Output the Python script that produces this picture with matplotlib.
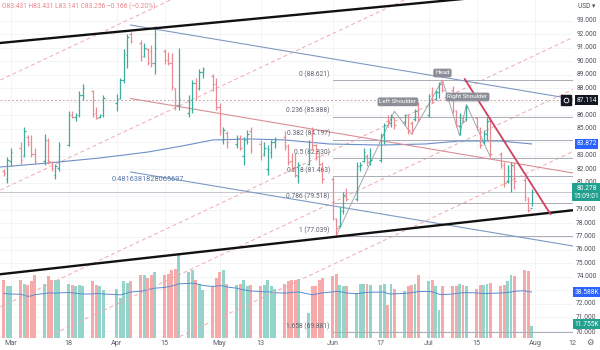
import numpy as np
import pandas as pd
import matplotlib
matplotlib.use('Agg')
import matplotlib.pyplot as plt
import matplotlib.dates as mdates
from matplotlib.transforms import blended_transform_factory

plt.rcParams['font.family'] = ['Roboto', 'DejaVu Sans']

# daily bars, exchange shut on Good Friday
dates = pd.bdate_range('2024-02-28', '2024-07-31').drop(pd.Timestamp('2024-03-29'))

opens = [81.9, 81.3, 82.6,
         83.6, 83.0, 84.4, 84.0, 83.1,
         82.6, 84.2, 82.5, 81.6, 82.1,
         83.8, 86.0, 85.9, 86.0, 87.5,
         87.8, 86.2, 85.9, 86.0,
         86.9, 87.3, 88.6, 90.5, 92.0,
         91.4, 90.4, 90.9, 90.8, 89.9,
         90.8, 90.1, 89.9, 88.0, 86.8,
         86.2, 87.1, 88.4, 88.0, 89.2,
         88.9, 88.3, 86.6, 84.2, 84.7,
         83.9, 84.3, 83.0, 84.2, 84.8,
         83.9, 83.1, 82.0, 83.3, 84.0,
         84.4, 83.7, 82.6, 82.0, 81.5,
         82.4, 84.5, 83.8, 83.0, 82.4,
         81.3, 78.3, 77.8, 78.9, 80.2,
         79.8, 82.2, 82.6, 83.0, 82.6,
         82.7, 84.5, 85.6, 85.4, 85.8,
         85.5, 86.0, 85.4, 85.7, 86.4,
         86.0, 87.6, 87.2, 87.7, 88.3,
         87.9, 86.3, 85.2, 85.8, 85.7,
         85.8, 85.0, 84.0, 84.6, 85.6,
         83.1, 82.3, 81.1, 81.5, 82.2,
         81.2, 79.8, 79.1]
highs = [82.0, 82.9, 83.6,
         84.0, 85.1, 84.5, 84.5, 83.6,
         84.6, 84.3, 82.6, 82.4, 84.0,
         86.3, 86.3, 86.2, 87.8, 88.3,
         87.9, 86.6, 86.1, 87.5,
         87.6, 88.8, 90.9, 92.0, 92.2,
         91.6, 91.4, 91.0, 91.2, 92.6,
         90.9, 90.7, 90.6, 88.0, 91.0,
         87.5, 88.6, 88.8, 89.4, 89.6,
         89.1, 88.8, 86.9, 85.1, 84.8,
         84.5, 84.5, 84.4, 84.9, 85.1,
         84.2, 84.0, 83.8, 84.2, 84.4,
         84.8, 83.9, 83.2, 83.2, 82.5,
         84.2, 85.1, 83.9, 83.2, 82.5,
         81.4, 78.4, 79.2, 80.3, 80.6,
         82.5, 82.5, 83.6, 83.1, 83.6,
         84.7, 85.4, 86.0, 86.1, 85.9,
         86.1, 86.1, 85.6, 86.5, 87.0,
         87.6, 88.1, 87.9, 88.5, 88.621,
         88.2, 86.4, 86.2, 86.0, 86.8,
         85.9, 85.1, 84.9, 85.9, 85.9,
         83.3, 82.5, 82.3, 82.5, 82.5,
         81.4, 79.9, 80.5]
lows = [81.5, 81.0, 82.2,
        82.4, 82.9, 83.7, 82.9, 82.4,
        82.3, 82.4, 81.9, 81.3, 81.9,
        83.7, 85.8, 85.6, 85.9, 87.1,
        85.9, 85.7, 85.8, 85.9,
        86.3, 87.2, 88.4, 89.5, 91.4,
        90.0, 90.3, 89.7, 89.6, 89.1,
        89.8, 89.7, 87.9, 86.4, 86.4,
        85.9, 86.2, 87.1, 87.9, 88.8,
        87.8, 86.4, 84.5, 83.9, 83.6,
        83.6, 83.4, 82.3, 83.9, 83.2,
        82.7, 83.0, 81.6, 82.8, 83.6,
        83.4, 82.3, 81.9, 81.4, 81.0,
        82.3, 83.4, 82.7, 82.2, 81.0,
        78.2, 77.039, 77.7, 78.7, 79.6,
        79.6, 81.9, 82.5, 82.2, 82.3,
        82.5, 83.9, 85.1, 85.1, 85.0,
        85.3, 84.6, 84.6, 85.6, 85.5,
        85.9, 86.9, 87.1, 87.3, 87.7,
        86.2, 85.1, 84.5, 85.4, 85.6,
        84.9, 83.6, 83.9, 84.2, 82.9,
        82.1, 80.7, 81.0, 80.3, 80.5,
        79.6, 78.8, 79.3]
closes = [81.7, 82.7, 83.3,
          82.7, 84.8, 83.9, 83.1, 82.6,
          84.2, 82.6, 82.1, 82.2, 83.8,
          86.0, 85.9, 86.0, 87.5, 88.0,
          86.1, 85.8, 86.0, 87.3,
          87.2, 88.6, 90.6, 91.8, 91.5,
          90.3, 91.0, 89.9, 89.9, 91.0,
          90.1, 89.9, 88.1, 86.8, 87.2,
          87.1, 88.4, 88.0, 89.2, 89.4,
          88.3, 86.6, 84.8, 84.9, 84.0,
          84.3, 83.6, 84.2, 84.6, 83.4,
          83.0, 83.6, 83.5, 84.0, 84.2,
          83.7, 82.5, 82.0, 81.6, 82.3,
          84.0, 83.8, 82.9, 82.4, 81.3,
          78.4, 77.6, 78.9, 80.1, 79.8,
          82.2, 82.3, 83.3, 82.5, 82.7,
          84.5, 85.3, 85.4, 85.9, 85.3,
          86.0, 84.9, 85.0, 86.3, 85.7,
          87.4, 87.1, 87.7, 88.3, 87.9,
          86.4, 85.3, 86.0, 85.6, 86.6,
          85.1, 83.8, 84.7, 85.6, 83.1,
          82.3, 81.0, 81.9, 82.3, 81.1,
          79.9, 79.0, 80.278]

# volume in thousands, with its moving average
volume = [48, 43, 43,
          48, 45, 44, 47, 52,
          45, 51, 48, 48, 48,
          45, 44, 43, 44, 43,
          47, 44, 43, 40,
          41, 34, 47, 46, 47,
          52, 52, 50, 52, 54,
          52, 53, 56, 57, 68,
          54, 56, 48, 45, 40,
          43, 50, 54, 56, 45,
          44, 45, 48, 43, 44,
          43, 44, 48, 43, 41,
          45, 47, 48, 48, 49,
          22, 43, 43, 48, 50,
          51, 53, 44, 43, 43,
          38, 45, 45, 45, 44,
          44, 45, 28, 45, 41,
          39, 43, 44, 45, 52,
          47, 48, 43, 24, 43,
          43, 43, 45, 44, 43,
          41, 44, 44, 45, 46,
          43, 44, 47, 52, 51,
          56, 55, 11.755]
volume_ma = [37.5, 37.2, 37.0,
             36.8, 36.0, 35.2, 35.5, 36.5,
             37.4, 37.8, 38.0, 37.6, 37.9,
             38.2, 38.0, 37.6, 37.2, 37.0,
             37.1, 37.4, 37.3, 37.0,
             36.6, 36.3, 37.0, 37.8, 38.6,
             39.2, 39.8, 40.4, 41.0, 41.6,
             42.2, 42.8, 43.4, 44.0, 45.0,
             45.4, 45.6, 45.2, 44.6, 43.8,
             43.0, 43.2, 43.6, 43.4, 42.6,
             41.6, 40.8, 40.4, 39.8, 39.4,
             39.0, 38.7, 38.8, 38.5, 38.0,
             37.8, 37.9, 38.2, 38.5, 38.6,
             37.0, 36.4, 36.8, 37.4, 38.0,
             38.6, 39.2, 38.9, 38.4, 37.8,
             37.2, 37.6, 38.0, 38.3, 38.4,
             38.5, 38.6, 37.4, 37.0, 37.2,
             37.5, 37.8, 38.1, 38.4, 39.0,
             39.0, 38.8, 38.0, 36.8, 36.6,
             37.0, 37.5, 37.8, 38.0, 38.1,
             37.9, 37.7, 37.4, 37.4, 37.6,
             37.8, 38.0, 38.2, 38.6, 39.2,
             39.6, 38.9, 38.588]

# long moving average
ma_dates = ['2024-02-27', '2024-03-12', '2024-03-27', '2024-04-10', '2024-04-20',
            '2024-04-29', '2024-05-10', '2024-05-20', '2024-06-02', '2024-06-17',
            '2024-06-30', '2024-07-10', '2024-07-22', '2024-07-31']
ma_values = [82.16, 82.46, 82.83, 83.27, 83.72, 84.17, 84.24, 84.17, 83.87, 83.79,
             83.87, 84.09, 84.09, 83.872]

fib_ratios = ['0', '0.236', '0.382', '0.5', '0.618', '0.786', '1', '1.658']
fib_levels = [88.621, 85.888, 84.197, 82.830, 81.463, 79.518, 77.039, 69.881]

# trend lines as (date, price) pairs
channel_top = [('2024-02-27', 91.37), ('2024-08-12', 95.41)]
channel_bottom = [('2024-02-27', 74.2), ('2024-08-12', 78.95)]
reg_upper = [('2024-04-05', 92.70), ('2024-08-12', 87.21)]
reg_mid = [('2024-04-05', 87.25), ('2024-08-12', 81.72)]
reg_lower = [('2024-04-05', 81.79), ('2024-08-12', 76.30)]
down_line = [('2024-07-11 12:00', 88.69), ('2024-08-05 12:00', 78.67)]
fan_left = [88.62, 80.45, 71.77, 67.91, 63.30]
fan_right = [108.6, 100.45, 91.77, 87.91, 83.30]

hs_dates = ['2024-06-04', '2024-06-21', '2024-06-26', '2024-07-05', '2024-07-10',
            '2024-07-12', '2024-07-19']
hs_prices = [77.04, 86.3, 84.6, 88.62, 84.5, 86.8, 82.9]

price_ticks = list(range(70, 94))
time_ticks = ['2024-03-01', '2024-03-18', '2024-04-01', '2024-04-15', '2024-05-01',
              '2024-05-13', '2024-06-03', '2024-06-17', '2024-07-01', '2024-07-15',
              '2024-08-01', '2024-08-12']
time_labels = ['Mar', '18', 'Apr', '15', 'May', '13', 'Jun', '17', 'Jul', '15', 'Aug', '12']

UP, DOWN = '#3aad9e', '#ec8a92'
VOL_UP, VOL_DOWN = '#95d4cb', '#f6aaa9'


def num(d):
    return mdates.date2num(pd.Timestamp(d).to_pydatetime())


def seg(ax, pts, **kw):
    ax.plot([num(pts[0][0]), num(pts[1][0])], [pts[0][1], pts[1][1]], **kw)


x = mdates.date2num(dates.to_pydatetime())
o, h, l, c = map(np.array, (opens, highs, lows, closes))
up = c >= o

fig = plt.figure(figsize=(6, 3.5), dpi=100)
rect = [0, 12 / 350, 573 / 600, 338 / 350]
ax_vol = fig.add_axes(rect)
ax = fig.add_axes(rect, sharex=ax_vol)
ax.patch.set_visible(False)
for a in (ax, ax_vol):
    for s in a.spines.values():
        s.set_visible(False)

ax.set_xlim(x[-1] - 155.1, x[-1] + 12.1)
ax.set_ylim(69.466, 94.559)
ax_vol.set_ylim(2.29, 269.1)
ax_vol.set_yticks([])
ax.set_yticks([])

# grid
grid_tr = blended_transform_factory(ax_vol.transAxes, ax.transData)
ax_vol.hlines(price_ticks, 0, 1, transform=grid_tr, color='#f1f3f7', lw=0.6, zorder=0)
tick_x = [num(t) for t in time_ticks]
for tx in tick_x:
    ax_vol.axvline(tx, color='#f1f3f7', lw=0.6, zorder=0)

# volume
ax_vol.bar(x, volume, width=0.85, color=np.where(up, VOL_UP, VOL_DOWN), zorder=1)
ax_vol.plot(x, volume_ma, color='#5a8bd0', lw=0.7, zorder=2)

# fan of dashed lines
xl, xr = num('2024-02-27'), num('2024-08-12')
for pl, pr in zip(fan_left, fan_right):
    ax.plot([xl, xr], [pl, pr], color='#eeaab1', lw=0.7, ls=(0, (4, 3)), zorder=1)

# horizontal levels
ax.axhline(87.114, color='#c9a7ac', lw=0.7, ls=(0, (2, 2)), zorder=1)
ax.axhline(80.278, color='#c4c8cf', lw=0.7, zorder=1)

# fibonacci retracement
fib_x0 = num('2024-06-03')
for r, lv in zip(fib_ratios, fib_levels):
    ax.plot([fib_x0, xr], [lv, lv], color='#a9acb4', lw=0.7, zorder=1)
    ax.annotate(f'{r} ({lv:.3f})', (fib_x0, lv), xytext=(-2, 1.5), textcoords='offset points',
                ha='right', va='bottom', fontsize=4.8, color='#5f626d', zorder=3)

# moving average and regression channel
ax.plot([num(d) for d in ma_dates], ma_values, color='#6d8fc9', lw=0.8, zorder=2)
seg(ax, reg_upper, color='#7d9ac0', lw=0.8, zorder=2)
seg(ax, reg_lower, color='#7d9ac0', lw=0.8, zorder=2)
seg(ax, reg_mid, color='#d98f95', lw=0.8, zorder=2)
ax.text(num('2024-04-10'), 81.27, '0.4816381828065697', fontsize=5.3, color='#5577aa',
        ha='center', va='center', zorder=3)

# main channel
seg(ax, channel_top, color='#111111', lw=1.7, zorder=4)
seg(ax, channel_bottom, color='#111111', lw=1.7, zorder=4)
seg(ax, down_line, color='#d0405f', lw=1.3, zorder=4)

# head and shoulders
ax.plot([num(d) for d in hs_dates], hs_prices, color='#a3a6ae', lw=0.7, zorder=2)
box = dict(boxstyle='round,pad=0.3', fc='#8c8f98', ec='none')
ax.text(num('2024-06-22'), 87.0, 'Left Shoulder', fontsize=4.5, color='white',
        ha='center', va='center', bbox=box, zorder=5)
ax.text(num('2024-07-05'), 89.14, 'Head', fontsize=4.5, color='white',
        ha='center', va='center', bbox=box, zorder=5)
ax.text(num('2024-07-12 08:00'), 87.36, 'Right Shoulder', fontsize=4.5, color='white',
        ha='center', va='center', bbox=box, zorder=5)

# OHLC bars
cols = np.where(up, UP, DOWN)
ax.vlines(x, l, h, colors=cols, lw=0.9, zorder=3)
ax.hlines(o, x - 0.45, x, colors=cols, lw=0.9, zorder=3)
ax.hlines(c, x, x + 0.45, colors=cols, lw=0.9, zorder=3)

# time axis
ax.set_xticks(tick_x)
ax.set_xticklabels(time_labels)
ax.tick_params(axis='x', length=0, pad=1.5, labelsize=5.2, labelcolor='#5d606b')
ax_vol.tick_params(axis='x', length=0, labelbottom=False)

# price scale
ptr = blended_transform_factory(ax.transAxes, ax.transData)
lx = 586.5 / 573
hidden = {87, 84, 80, 73}
for p in price_ticks:
    if p in hidden:
        continue
    ax.text(lx, p - (0.12 if p == 70 else 0), f'{p:.3f}', transform=ptr, fontsize=4.8,
            color='#4b4e58', ha='center', va='center', clip_on=False)


def tag(y, s, fc, tr):
    ax.text(lx, y, s, transform=tr, fontsize=4.8, color='white', ha='center', va='center',
            clip_on=False, zorder=6,
            bbox=dict(boxstyle='square,pad=0.22', fc=fc, ec='none'))


tag(87.114, '87.114', '#131722', ptr)
tag(83.872, '83.872', '#2962ff', ptr)
tag(80.278, '80.278\n15:09:01', '#22a08f', ptr)
vtr = blended_transform_factory(ax.transAxes, ax_vol.transData)
tag(38.588, '38.588K', '#2962ff', vtr)
tag(13.2, '11.755K', '#22a08f', vtr)
ax.plot([566 / 573], [87.114], transform=ptr, marker='s', ms=6.5, color='#131722',
        clip_on=False, zorder=6)
ax.plot([566 / 573], [87.114], transform=ptr, marker='o', ms=3.4, mfc='#131722',
        mec='white', mew=0.6, clip_on=False, zorder=7)

fig.text(578 / 600, 1 - 6 / 350, 'USD ▾', fontsize=4.8, color='#4b4e58', va='center')
fig.text(590 / 600, 1 - 343 / 350, '⚙', fontsize=6, color='#5d606b', ha='center', va='center')
fig.text(2 / 600, 1 - 6 / 350, 'O83.431 H83.431 L83.141 C83.256 −0.166 (−0.20%)',
         fontsize=4.8, color='#e8848c', va='center')

fig.savefig('out.png', dpi=100)
